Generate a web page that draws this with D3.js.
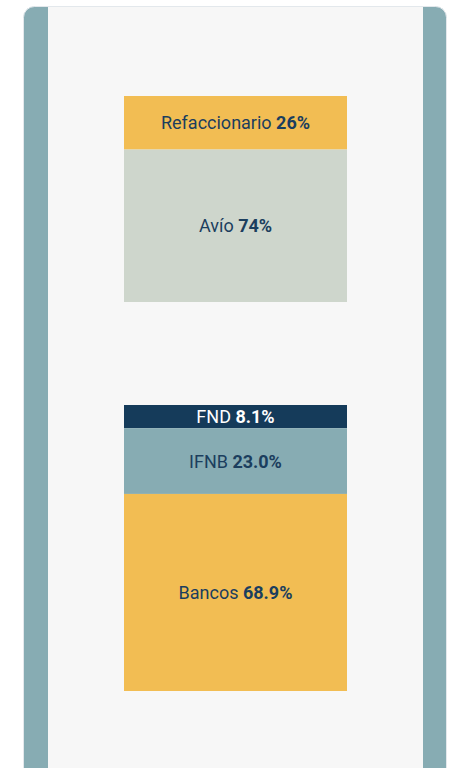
<!DOCTYPE html>
<html>
<head>
<meta charset="utf-8">
<script src="https://cdn.jsdelivr.net/npm/d3@7"></script>
<style>
  body { margin: 0; background: #ffffff; }
  svg { display: block; }
</style>
</head>
<body>
<div id="chart"></div>
<script>
// tipo de credito
var tipoLabels = ["Refaccionario", "Avío"];
var tipoValues = [26, 74];
var tipoText = ["26%", "74%"];

// intermediario
var interLabels = ["FND", "IFNB", "Bancos"];
var interValues = [8.1, 23.0, 68.9];
var interText = ["8.1%", "23.0%", "68.9%"];

var width = 449,
    height = 768;

var svg = d3.select("#chart")
    .append("svg")
    .attr("width", width)
    .attr("height", height);

// tarjeta de fondo
svg.append("rect")
    .attr("x", 23.5).attr("y", 6.5)
    .attr("width", 423).attr("height", 780)
    .attr("rx", 11)
    .attr("fill", "#87acb3")
    .attr("stroke", "#e3e8ec")
    .attr("stroke-width", 1);

svg.append("rect")
    .attr("x", 48).attr("y", 7)
    .attr("width", 375).attr("height", 770)
    .attr("fill", "#f7f7f7");

var x = d3.scaleBand()
    .domain([0])
    .range([124, 347]);

function stack(id, labels, values, texts, colors, textColors, y0, y1) {
    var y = d3.scaleLinear()
        .domain([0, d3.sum(values)])
        .range([y0, y1]);

    var rows = labels.map(function(d, i) {
        var start = d3.sum(values.slice(0, i));
        return { label: d, text: texts[i], a: start, b: start + values[i], i: i };
    });

    var g = svg.append("g").attr("class", id);

    g.selectAll("rect")
        .data(rows)
        .enter().append("rect")
        .attr("x", x(0))
        .attr("width", x.bandwidth())
        .attr("y", function(d) { return y(d.a); })
        .attr("height", function(d) { return y(d.b) - y(d.a); })
        .attr("fill", function(d) { return colors[d.i]; });

    var t = g.selectAll("text")
        .data(rows)
        .enter().append("text")
        .attr("x", x(0) + x.bandwidth() / 2)
        .attr("y", function(d) { return (y(d.a) + y(d.b)) / 2; })
        .attr("dy", "0.36em")
        .attr("text-anchor", "middle")
        .style("font-family", "Roboto, sans-serif")
        .style("font-size", "18px")
        .attr("fill", function(d) { return textColors[d.i]; });

    t.append("tspan").text(function(d) { return d.label + " "; });
    t.append("tspan").style("font-weight", "bold").text(function(d) { return d.text; });
}

stack("tipo", tipoLabels, tipoValues, tipoText,
    ["#f2bd53", "#ced6cc"], ["#1b3e5e", "#1b3e5e"], 96, 302);

stack("inter", interLabels, interValues, interText,
    ["#153b5a", "#87acb3", "#f2bd53"], ["#ffffff", "#1b3e5e", "#1b3e5e"], 405, 691);
</script>
</body>
</html>
